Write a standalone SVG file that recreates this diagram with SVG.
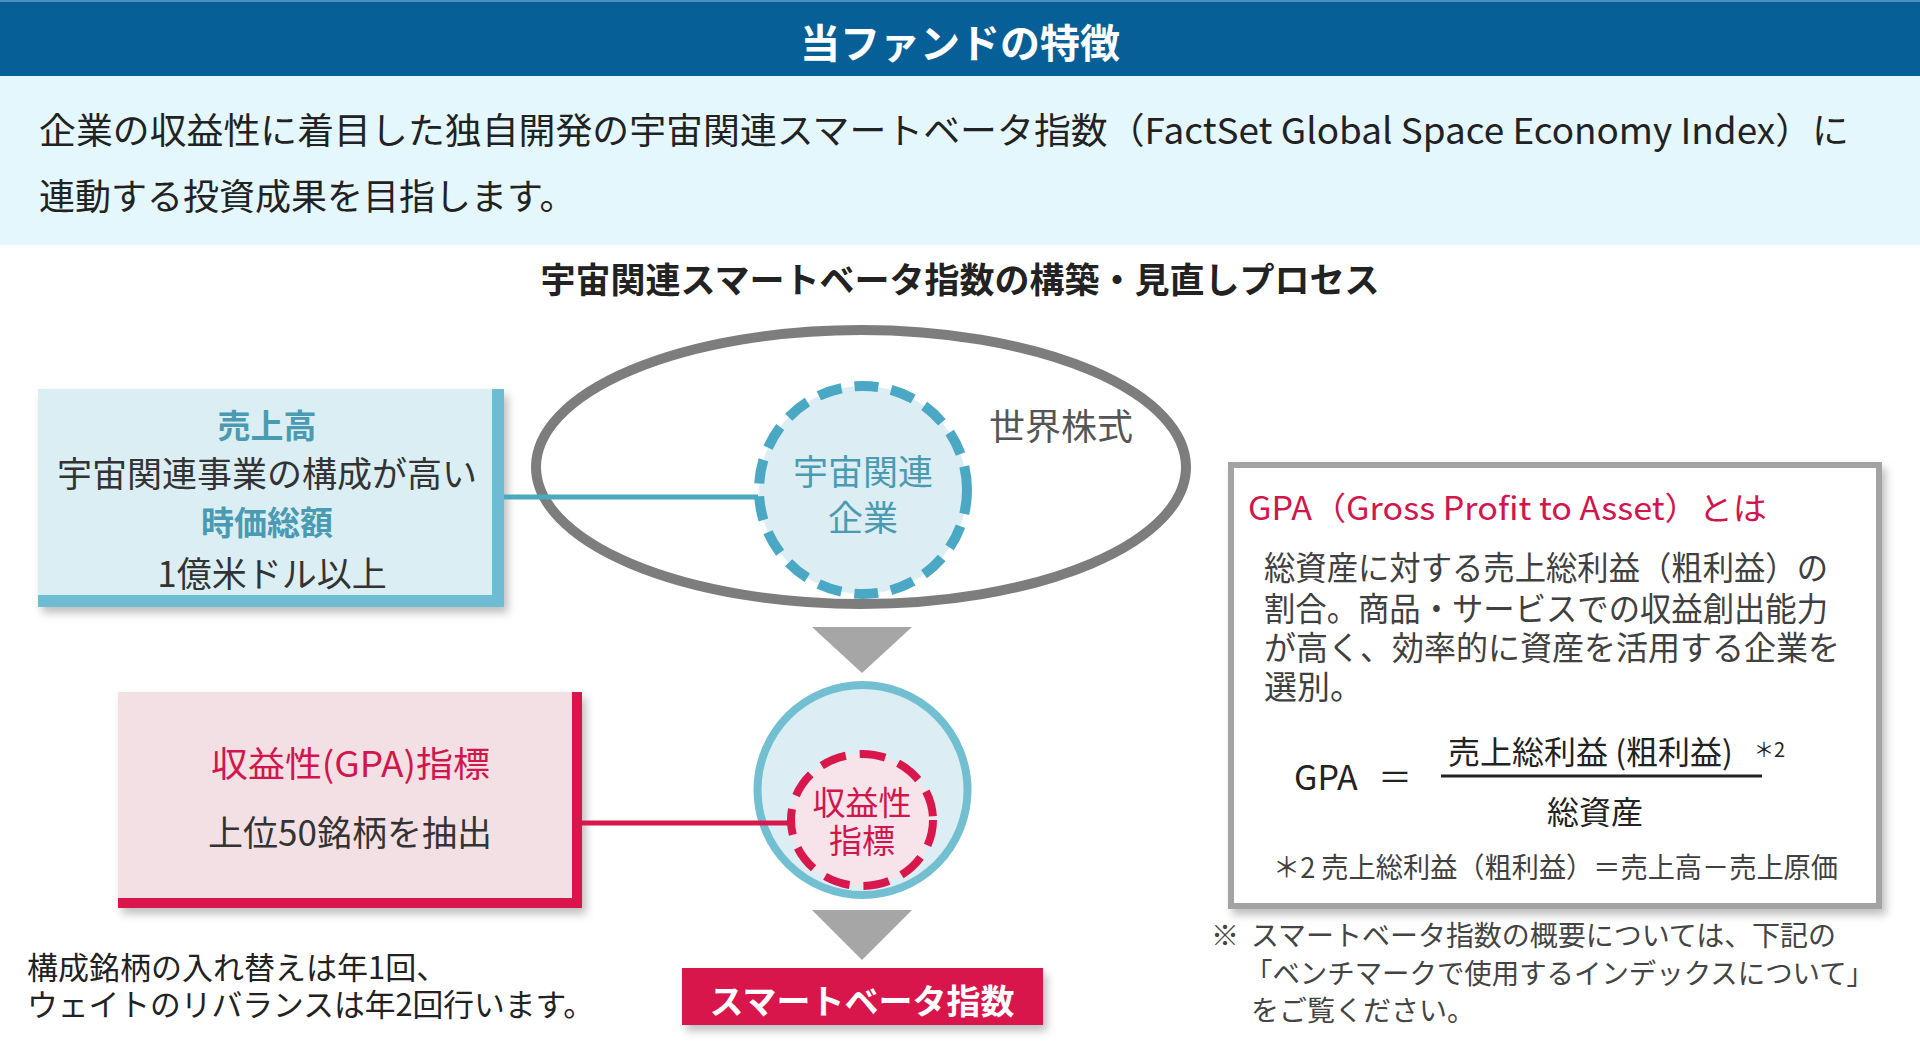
<svg xmlns="http://www.w3.org/2000/svg" width="1920" height="1056" viewBox="0 0 1920 1056">
  <defs>
    <filter id="shadow" x="-10%" y="-10%" width="130%" height="140%">
      <feDropShadow dx="4" dy="6" stdDeviation="4" flood-color="#000" flood-opacity="0.25"/>
    </filter>
    <style>
      text { font-family: "Noto Sans CJK JP", "Noto Sans", sans-serif; }
      .dark { fill: #333333; }
      .teal { fill: #4a9bb2; }
      .red { fill: #d0164c; }
      .b { font-weight: bold; }
      .mid { text-anchor: middle; }
    </style>
  </defs>

  <rect x="0" y="0" width="1920" height="1056" fill="#ffffff"/>

  <!-- header -->
  <g id="header">
    <rect x="0" y="0" width="1920" height="76" fill="#075f97"/>
    <rect x="0" y="0" width="1920" height="2" fill="#4c8fbc"/>
    <text x="960" y="58" class="mid b" font-size="40" fill="#ffffff">当ファンドの特徴</text>
  </g>

  <g id="intro">
    <rect x="0" y="76" width="1920" height="169" fill="#e4f7fc"/>
    <text x="39" y="144" font-size="36" fill="#222222" textLength="1810" lengthAdjust="spacingAndGlyphs">企業の収益性に着目した独自開発の宇宙関連スマートベータ指数（FactSet Global Space Economy Index）に</text>
    <text x="39" y="210" font-size="36" fill="#222222">連動する投資成果を目指します。</text>
  </g>

  <text id="subtitle" x="960" y="293" class="mid b" font-size="35" fill="#222222">宇宙関連スマートベータ指数の構築・見直しプロセス</text>

  <!-- sales / market cap box -->
  <g id="box-sales">
    <rect x="38" y="389" width="466" height="218" fill="#6dbcd3" filter="url(#shadow)"/>
    <rect x="38" y="389" width="454" height="206" fill="#dbeef4"/>
    <text x="267" y="438" class="mid teal b" font-size="33">売上高</text>
    <text x="267" y="487" class="mid dark" font-size="35">宇宙関連事業の構成が高い</text>
    <text x="267" y="535" class="mid teal b" font-size="33">時価総額</text>
    <text x="272" y="587" class="mid dark" font-size="35">1億米ドル以上</text>
  </g>

  <!-- world equities -->
  <g id="world-equities">
    <ellipse cx="861" cy="467" rx="325" ry="137" fill="none" stroke="#7d7d7d" stroke-width="10"/>
    <text x="989" y="440" font-size="36" fill="#555555">世界株式</text>
  </g>

  <g id="space-companies">
    <circle cx="863" cy="490" r="104" fill="#dcedf3" stroke="#4aa8c4" stroke-width="10" stroke-dasharray="24 13"/>
    <text x="863" y="485" class="mid teal" font-size="35">宇宙関連</text>
    <text x="863" y="531" class="mid teal" font-size="35">企業</text>
  </g>

  <!-- GPA box -->
  <g id="box-gpa-metric">
    <rect x="118" y="692" width="464" height="216" fill="#d8174c" filter="url(#shadow)"/>
    <rect x="118" y="692" width="454" height="206" fill="#f3e0e4"/>
    <text x="211" y="777" class="red" font-size="35" textLength="279" lengthAdjust="spacingAndGlyphs">収益性(GPA)指標</text>
    <text x="350" y="846" class="mid dark" font-size="35">上位50銘柄を抽出</text>
  </g>

  <g id="profit-circle">
    <circle cx="862.5" cy="790" r="105" fill="#dcedf3" stroke="#72bfd2" stroke-width="8"/>
    <ellipse cx="862" cy="820" rx="71" ry="66" fill="#f6e4ea" stroke="#d8174c" stroke-width="8" stroke-dasharray="26 14"/>
    <text x="862" y="815" class="mid red" font-size="33">収益性</text>
    <text x="862" y="853" class="mid red" font-size="33">指標</text>
  </g>

  <g id="smart-beta">
    <rect x="682" y="968" width="361" height="57" fill="#d8174c" filter="url(#shadow)"/>
    <text x="862" y="1014" class="mid b" font-size="34" fill="#ffffff">スマートベータ指数</text>
  </g>

  <!-- connectors -->
  <g id="connectors">
    <line x1="504" y1="497" x2="758" y2="497" stroke="#4aa8c2" stroke-width="5"/>
    <line x1="582" y1="823" x2="792" y2="823" stroke="#d8174c" stroke-width="5"/>
    <polygon points="812,627 912,627 862,673" fill="#a6a6a6"/>
    <polygon points="812,910 912,910 862,960" fill="#a6a6a6"/>
  </g>

  <g id="rebalance-note">
    <text x="27" y="979" font-size="31" fill="#222222">構成銘柄の入れ替えは年1回、</text>
    <text x="27" y="1016" font-size="31" fill="#222222" textLength="567" lengthAdjust="spacingAndGlyphs">ウェイトのリバランスは年2回行います。</text>
  </g>

  <!-- GPA explanation -->
  <g id="gpa-explain">
    <rect x="1231" y="465" width="648" height="441" fill="#ffffff" stroke="#a3a3a3" stroke-width="6" filter="url(#shadow)"/>
    <text x="1248" y="520" font-size="32" class="red" textLength="519" lengthAdjust="spacingAndGlyphs">GPA（Gross Profit to Asset）とは</text>
    <text x="1264" y="580" font-size="33" fill="#404040" textLength="564" lengthAdjust="spacingAndGlyphs">総資産に対する売上総利益（粗利益）の</text>
    <text x="1264" y="621" font-size="33" fill="#404040" textLength="564" lengthAdjust="spacingAndGlyphs">割合。商品・サービスでの収益創出能力</text>
    <text x="1264" y="660" font-size="33" fill="#404040" textLength="576" lengthAdjust="spacingAndGlyphs">が高く、効率的に資産を活用する企業を</text>
    <text x="1264" y="699" font-size="33" fill="#404040">選別。</text>
    <text x="1294" y="790" font-size="34" fill="#222222">GPA</text>
    <text x="1378" y="790" font-size="34" fill="#222222">＝</text>
    <text x="1448" y="764" font-size="32" fill="#222222">売上総利益 (粗利益)</text>
    <text x="1754" y="757" font-size="20" fill="#222222">＊2</text>
    <line x1="1441" y1="776" x2="1762" y2="776" stroke="#222222" stroke-width="3"/>
    <text x="1595" y="824" class="mid" font-size="32" fill="#222222">総資産</text>
    <text x="1273" y="878" font-size="28" fill="#404040" textLength="565" lengthAdjust="spacingAndGlyphs">＊2 売上総利益（粗利益）＝売上高－売上原価</text>
  </g>

  <g id="reference-note">
    <text x="1211" y="946" font-size="28" fill="#444444">※</text>
    <text x="1251" y="946" font-size="28" fill="#444444" textLength="585" lengthAdjust="spacingAndGlyphs">スマートベータ指数の概要については、下記の</text>
    <text x="1245" y="984" font-size="28" fill="#444444" textLength="629" lengthAdjust="spacingAndGlyphs">「ベンチマークで使用するインデックスについて」</text>
    <text x="1251" y="1021" font-size="28" fill="#444444">をご覧ください。</text>
  </g>
</svg>
